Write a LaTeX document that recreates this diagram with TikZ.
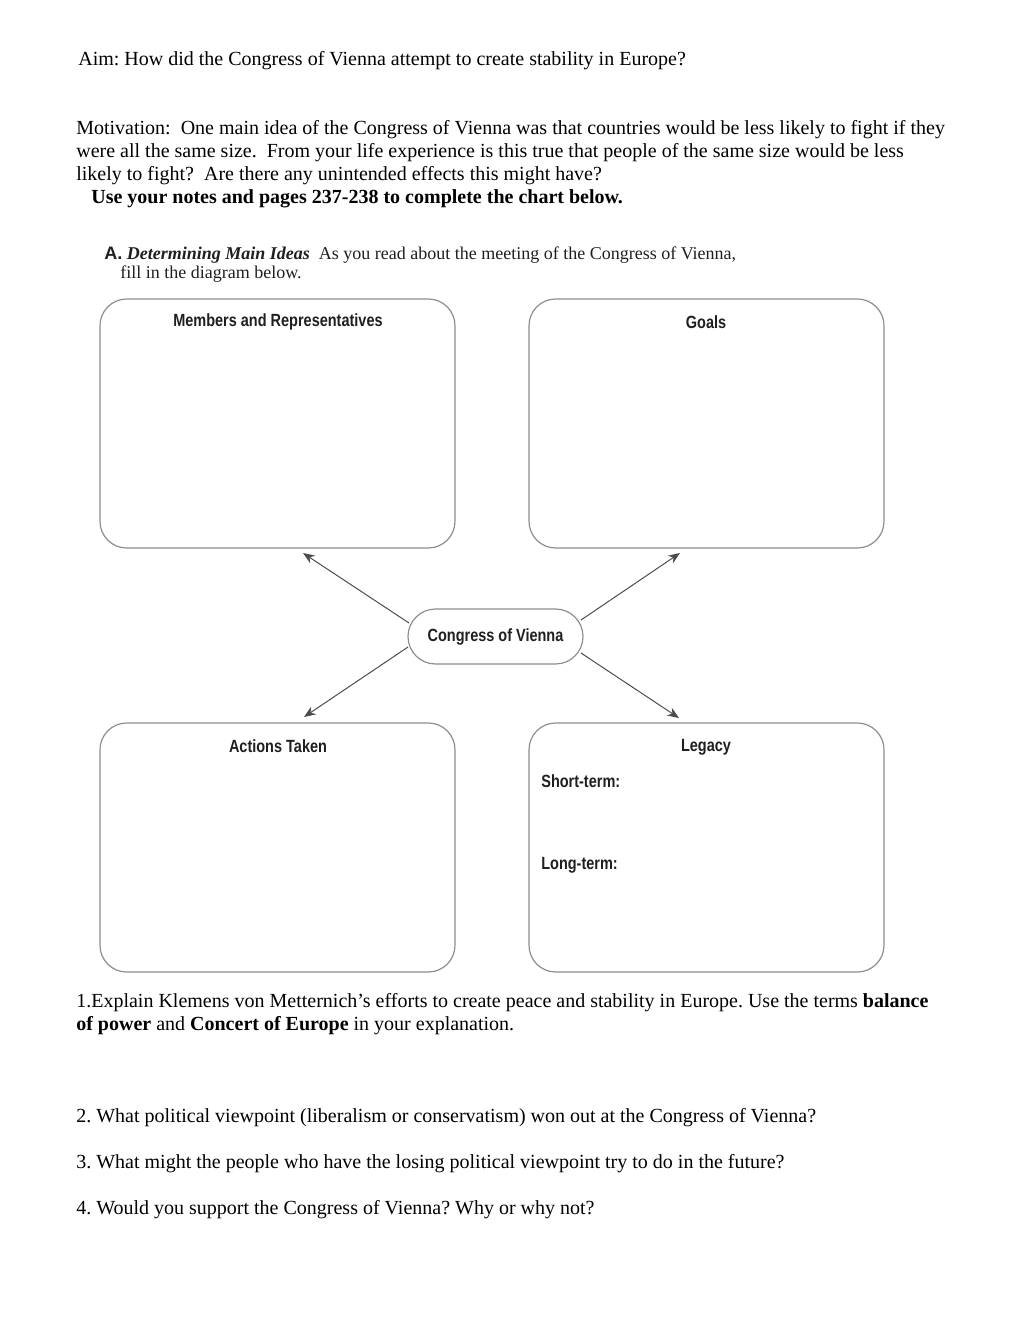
\documentclass[tikz,border=0pt]{standalone}
\usepackage{fontspec}
\setmainfont{Liberation Serif}
\newfontfamily\condfont[FakeStretch=0.82]{Liberation Sans}
\newfontfamily\headsans{Liberation Sans}
\usetikzlibrary{arrows.meta}
\definecolor{boxgray}{gray}{0.55}
\definecolor{arrowgray}{gray}{0.3}
\definecolor{labelink}{gray}{0.12}
\frenchspacing
\begin{document}
\begin{tikzpicture}[x=0.6pt,y=-0.6pt,
  bodyline/.style={anchor=base west, inner sep=0pt, font=\fontsize{12}{14}\selectfont},
  headline/.style={anchor=base west, inner sep=0pt, text=labelink, font=\fontsize{10.8}{12}\selectfont},
  panel/.style={draw=boxgray, line width=0.7pt, rounded corners=16pt, minimum width=213pt, minimum height=149.4pt, inner sep=0pt},
  paneltitle/.style={inner sep=0pt, text=labelink, font=\condfont\bfseries\fontsize{10.6}{12}\selectfont},
  pill/.style={draw=boxgray, line width=0.7pt, rounded corners=16.5pt, minimum width=105pt, minimum height=33pt, inner sep=0pt, text=labelink, font=\condfont\bfseries\fontsize{10.6}{12}\selectfont},
  link/.style={draw=arrowgray, line width=0.6pt, -{Stealth[length=7pt,width=5.5pt]}}
]
\useasboundingbox (0,0) rectangle (1020,1320);

% header texts
\node[bodyline] (aim) at (78,65) {Aim: How did the Congress of Vienna attempt to create stability in Europe?};
\node[bodyline] (m1) at (76,134) {Motivation:\ \ One main idea of the Congress of Vienna was that countries would be less likely to fight if they};
\node[bodyline] (m2) at (76,157) {were all the same size.\ \ From your life experience is this true that people of the same size would be less};
\node[bodyline] (m3) at (76,180) {likely to fight?\ \ Are there any unintended effects this might have?};
\node[bodyline, font=\bfseries\fontsize{12}{14}\selectfont] (m4) at (91,203) {Use your notes and pages 237-238 to complete the chart below.};

\node[headline] (ha) at (104,259) {{\headsans\bfseries A.} \textbf{\textit{Determining Main Ideas}}\ \ As you read about the meeting of the Congress of Vienna,};
\node[headline] (hb) at (120,278) {fill in the diagram below.};

% panels
\node[panel] (members) at (277.5,423.5) {};
\node[panel] (goals) at (706.5,423.5) {};
\node[panel] (actions) at (277.5,847.5) {};
\node[panel] (legacy) at (706.5,847.5) {};

\node[paneltitle] (tmembers) at (278,322) {Members and Representatives};
\node[paneltitle] (tgoals) at (706,322) {Goals};
\node[paneltitle] (tactions) at (278,746) {Actions Taken};
\node[paneltitle, anchor=base] (tlegacy) at (706,751) {Legacy};
\node[paneltitle, anchor=base west] (short) at (541,787) {Short-term:};
\node[paneltitle, anchor=base west] (long) at (541,869) {Long-term:};

% centre
\node[pill] (cov) at (495.5,636.5) {Congress of Vienna};

\coordinate (eTL) at (303,553);
\coordinate (eTR) at (680,553);
\coordinate (eBL) at (304,717);
\coordinate (eBR) at (679,718);
\coordinate (sTL) at (409,623);
\coordinate (sTR) at (581,620);
\coordinate (sBL) at (408,647);
\coordinate (sBR) at (581,653);
\draw[link] (sTL) -- (eTL);
\draw[link] (sTR) -- (eTR);
\draw[link] (sBL) -- (eBL);
\draw[link] (sBR) -- (eBR);

% questions
\node[bodyline] (q1a) at (76,1007) {1.Explain Klemens von Metternich’s efforts to create peace and stability in Europe. Use the terms \textbf{balance}};
\node[bodyline] (q1b) at (76,1030) {\textbf{of power} and \textbf{Concert of Europe} in your explanation.};
\node[bodyline] (q2) at (76,1122) {2. What political viewpoint (liberalism or conservatism) won out at the Congress of Vienna?};
\node[bodyline] (q3) at (76,1168) {3. What might the people who have the losing political viewpoint try to do in the future?};
\node[bodyline] (q4) at (76,1214) {4. Would you support the Congress of Vienna? Why or why not?};
\end{tikzpicture}
\end{document}
